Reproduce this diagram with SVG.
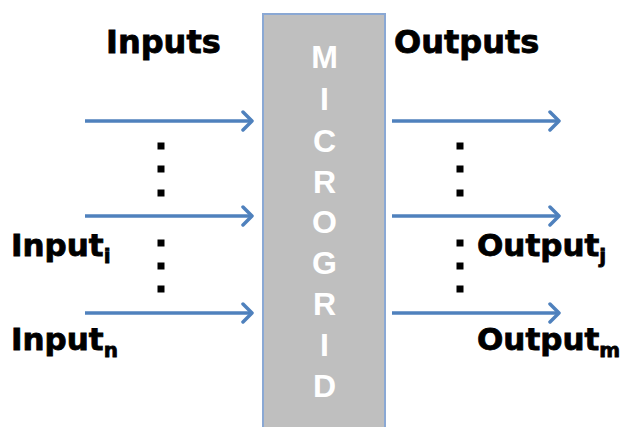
<svg xmlns="http://www.w3.org/2000/svg" width="631" height="427" viewBox="0 0 631 427">
<defs>
<marker id="ah" markerWidth="14" markerHeight="22" refX="11" refY="11" orient="auto" markerUnits="userSpaceOnUse">
<path d="M2,2 L11,11 L2,20" fill="none" stroke="#4f81bd" stroke-width="3.5" stroke-linecap="round" stroke-linejoin="round"/>
</marker>
</defs>
<style>
.lbl{font-family:"DejaVu Sans","Liberation Sans",Arial,sans-serif;font-weight:bold;font-size:31px;fill:#000;stroke:#000;stroke-width:0.8}
.big{font-size:32px}
.sub{font-size:20px}
.ltr{font-family:"Liberation Sans",Arial,sans-serif;font-weight:bold;font-size:32px;fill:#fff;text-anchor:middle}
.arr{stroke:#4f81bd;stroke-width:3.5;fill:none;marker-end:url(#ah)}
.dot{fill:#000}
</style>
<g id="microgrid">
<rect x="263" y="14" width="122" height="420" fill="#bfbfbf" stroke="#8aa8d4" stroke-width="2"/>
<text class="ltr" x="324.5" y="68">M</text>
<text class="ltr" x="324.5" y="110">I</text>
<text class="ltr" x="324.5" y="152">C</text>
<text class="ltr" x="324.5" y="193">R</text>
<text class="ltr" x="324.5" y="233">O</text>
<text class="ltr" x="324.5" y="274">G</text>
<text class="ltr" x="324.5" y="315">R</text>
<text class="ltr" x="324.5" y="356">I</text>
<text class="ltr" x="324.5" y="397">D</text>
</g>
<g id="inputs-label"><text class="lbl big" x="106" y="53">Inputs</text></g>
<g id="outputs-label"><text class="lbl big" x="394" y="53">Outputs</text></g>
<g id="input-i"><text class="lbl" x="11" y="256">Input<tspan class="sub" dy="7">i</tspan></text></g>
<g id="input-n"><text class="lbl" x="11" y="350">Input<tspan class="sub" dy="7">n</tspan></text></g>
<g id="output-j"><text class="lbl" x="477" y="256">Output<tspan class="sub" dy="7">j</tspan></text></g>
<g id="output-m"><text class="lbl" x="477" y="350">Output<tspan class="sub" dy="7">m</tspan></text></g>
<g id="dots">
<rect class="dot" x="157.5" y="142.5" width="7" height="7"/>
<rect class="dot" x="157.5" y="165.5" width="7" height="7"/>
<rect class="dot" x="157.5" y="189.5" width="7" height="7"/>
<rect class="dot" x="157.5" y="239.5" width="7" height="7"/>
<rect class="dot" x="157.5" y="262.5" width="7" height="7"/>
<rect class="dot" x="157.5" y="285.5" width="7" height="7"/>
<rect class="dot" x="456.5" y="142.5" width="7" height="7"/>
<rect class="dot" x="456.5" y="165.5" width="7" height="7"/>
<rect class="dot" x="456.5" y="189.5" width="7" height="7"/>
<rect class="dot" x="456.5" y="239.5" width="7" height="7"/>
<rect class="dot" x="456.5" y="262.5" width="7" height="7"/>
<rect class="dot" x="456.5" y="285.5" width="7" height="7"/>
</g>
<g id="connectors">
<line class="arr" x1="85" y1="121" x2="252" y2="121"/>
<line class="arr" x1="85" y1="216" x2="252" y2="216"/>
<line class="arr" x1="85" y1="313" x2="252" y2="313"/>
<line class="arr" x1="392" y1="121" x2="559" y2="121"/>
<line class="arr" x1="392" y1="216" x2="559" y2="216"/>
<line class="arr" x1="392" y1="313" x2="559" y2="313"/>
</g>
</svg>
